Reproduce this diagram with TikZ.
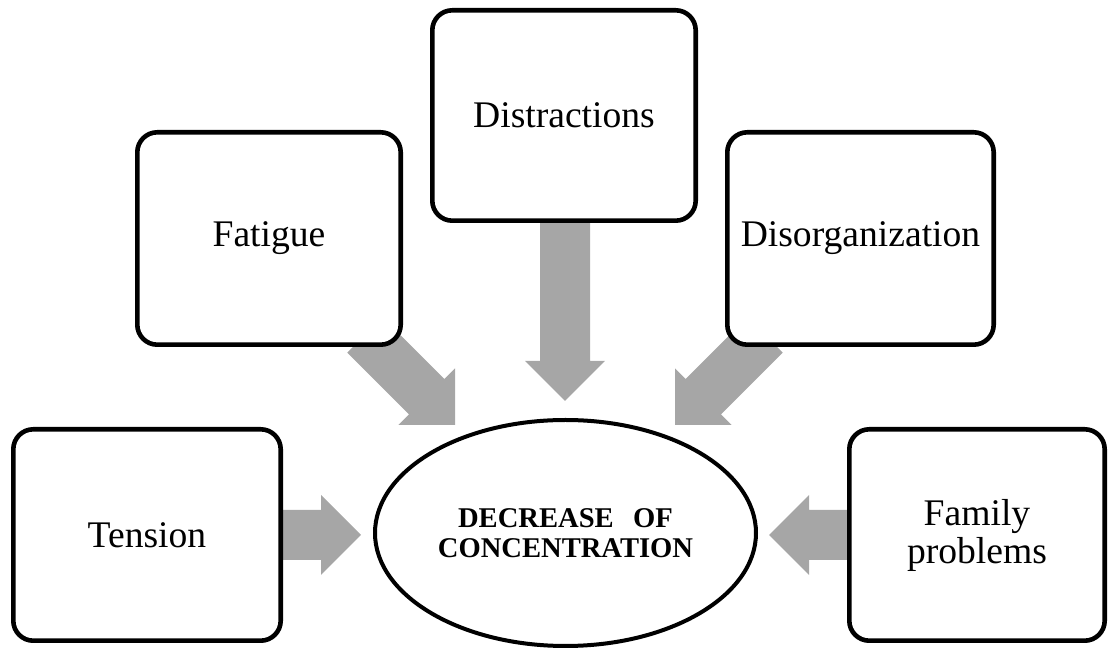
\documentclass[tikz,border=0pt]{standalone}
\usepackage{fontspec}
\setmainfont{Liberation Serif}
\usetikzlibrary{calc,shapes.geometric}
\definecolor{arrowgray}{RGB}{166,166,166}
\tikzset{
  box/.style={draw=black, line width=2.3pt, rounded corners=10pt, fill=white,
    inner sep=0pt, align=center, font=\fontsize{18.8}{19}\selectfont},
  centre/.style={ellipse, draw=black, line width=2pt, fill=white, inner sep=0pt,
    align=center, font=\bfseries\fontsize{14.3}{15}\selectfont},
  blockfill/.style={fill=arrowgray}
}
% block arrow from start coordinate #1 to tip coordinate #2
\newcommand{\blockarrow}[2]{%
  \coordinate (bah) at ($(#2)!20pt!(#1)$);
  \fill[blockfill] ($(#1)!12.5pt!90:(#2)$) -- ($(bah)!12.5pt!90:(#2)$)
    -- ($(bah)!20pt!90:(#2)$) -- (#2) -- ($(bah)!20pt!-90:(#2)$)
    -- ($(bah)!12.5pt!-90:(#2)$) -- ($(#1)!12.5pt!-90:(#2)$) -- cycle;
}
\begin{document}
\begin{tikzpicture}[x=0.5pt, y=-0.5pt]
\useasboundingbox (0,0) rectangle (1110,651);
% arrow start and tip coordinates
\coordinate (s1) at (565,215);  \coordinate (t1) at (565,401);
\coordinate (s2) at (365,335);  \coordinate (t2) at (455,425);
\coordinate (s3) at (765,335);  \coordinate (t3) at (675,425);
\coordinate (s4) at (275,535);  \coordinate (t4) at (361,535);
\coordinate (s5) at (855,535);  \coordinate (t5) at (769,535);
\blockarrow{s1}{t1}
\blockarrow{s2}{t2}
\blockarrow{s3}{t3}
\blockarrow{s4}{t4}
\blockarrow{s5}{t5}
% boxes
\node[box, minimum width=131.7pt, minimum height=105.2pt] (dis) at (564,115.5) {Distractions};
\node[box, minimum width=131.7pt, minimum height=106.2pt] (fat) at (269,238.5) {Fatigue};
\node[box, minimum width=133.2pt, minimum height=106.2pt] (org) at (860.5,238.5) {Disorganization};
\node[box, minimum width=133.7pt, minimum height=105.7pt] (ten) at (147,535) {Tension};
\node[box, minimum width=127.7pt, minimum height=105.7pt] (fam) at (977,535) {Family\\problems};
\node[centre, minimum width=190.5pt, minimum height=113pt] (dec) at (565.5,533)
  {DECREASE\hspace{0.68em}OF\\CONCENTRATION};
\end{tikzpicture}
\end{document}
